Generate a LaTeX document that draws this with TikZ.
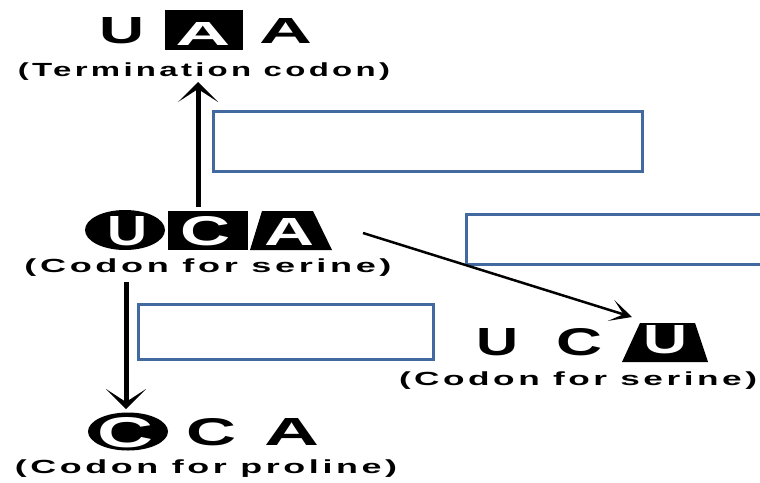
\documentclass[tikz,border=0pt]{standalone}
\usepackage{fontspec}
\setmainfont{Liberation Sans}
\newfontfamily\capfont[LetterSpace=10]{Liberation Sans}
\usetikzlibrary{arrows.meta}
\definecolor{boxblue}{RGB}{66,106,160}

% one bold letter stretched to a given width and cap height
\newcommand\glyph[3]{\resizebox{#1}{#2}{\bfseries #3}}
% a spaced-out bold caption stretched to a given width
\newcommand\captext[2]{\resizebox{#1}{\height}{\capfont\bfseries\fontsize{19}{21}\selectfont #2}}

\tikzset{
  letter/.style={inner sep=0pt, anchor=base},
  inverse/.style={letter, text=white},
  caption/.style={inner sep=0pt, anchor=base},
  bluebox/.style={draw=boxblue, line width=3pt, fill=white, inner sep=0pt},
  bigarrow/.style={line width=5pt,
    -{Stealth[length=20pt, width=40pt, inset=13pt, line width=0pt]}},
  thinarrow/.style={line width=2.5pt,
    -{Stealth[length=22pt, width=22pt, inset=13pt, line width=0pt]}},
}

\begin{document}
\begin{tikzpicture}[x=1pt, y=-1pt]
  \path[use as bounding box] (0,0) rectangle (760,482);
  \clip (0,0) rectangle (760,482);

  % ---- UAA : termination codon ----
  \fill (165,10) rectangle (243,50);
  \node[letter]  (t1) at (122.5,43) {\glyph{45pt}{26pt}{U}};
  \node[inverse] (t2) at (203,45)   {\glyph{55pt}{23pt}{A}};
  \node[letter]  (t3) at (286.5,43) {\glyph{53pt}{25pt}{A}};
  \node[caption] (capT) at (204,76) {\captext{372pt}{(Termination codon)}};

  % ---- UCA : serine ----
  \fill (125,230) ellipse [x radius=40pt, y radius=20pt];
  \fill (168,211) rectangle (248,250);
  \fill (250,250) -- (262,211) -- (313,211) -- (332,250) -- cycle;
  \node[inverse] (s1) at (128,245) {\glyph{40pt}{29pt}{U}};
  \node[inverse] (s2) at (206,245) {\glyph{50pt}{29pt}{C}};
  \node[inverse] (s3) at (290,245) {\glyph{50pt}{27pt}{A}};
  \node[caption] (capS) at (208,272) {\captext{367pt}{(Codon for serine)}};

  % ---- UCU : serine ----
  \fill (622,362) -- (640,323) -- (695,323) -- (708,362) -- cycle;
  \node[letter]  (r1) at (498,355) {\glyph{42pt}{27pt}{U}};
  \node[letter]  (r2) at (580,355) {\glyph{46pt}{27pt}{C}};
  \node[inverse] (r3) at (666,353) {\glyph{44pt}{28pt}{U}};
  \node[caption] (capR) at (578,385) {\captext{358pt}{(Codon for serine)}};

  % ---- CCA : proline ----
  \fill (128,431.5) ellipse [x radius=40pt, y radius=19pt];
  \node[inverse] (p1) at (126,447) {\glyph{56pt}{30pt}{C}};
  \node[letter]  (p2) at (212,445) {\glyph{50pt}{27pt}{C}};
  \node[letter]  (p3) at (292,445) {\glyph{55pt}{27pt}{A}};
  \node[caption] (capP) at (206,473) {\captext{382pt}{(Codon for proline)}};

  % ---- empty answer boxes ----
  \node[bluebox, minimum width=429pt, minimum height=60pt] (box1) at (427.5,141) {};
  \node[bluebox, minimum width=314pt, minimum height=50pt] (box2) at (623,239) {};
  \node[bluebox, minimum width=295pt, minimum height=55pt] (box3) at (285.5,331.5) {};

  % ---- mutation arrows ----
  \coordinate (upFrom) at (198,207);
  \coordinate (upTo)   at (198,82);
  \coordinate (dnFrom) at (126,282);
  \coordinate (dnTo)   at (126,409);
  \coordinate (dgFrom) at (363,233);
  \coordinate (dgTo)   at (632,317);
  \draw[bigarrow]  (upFrom) -- (upTo);
  \draw[bigarrow]  (dnFrom) -- (dnTo);
  \draw[thinarrow] (dgFrom) -- (dgTo);
\end{tikzpicture}
\end{document}
